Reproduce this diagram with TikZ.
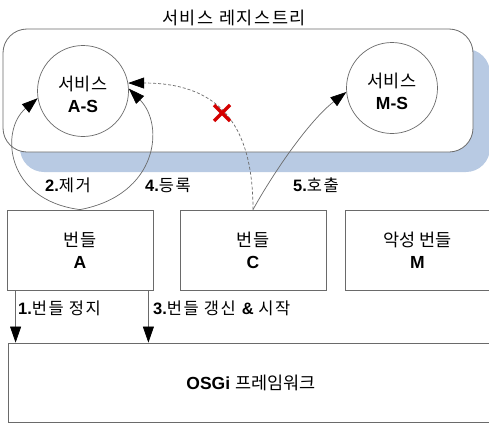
\documentclass[tikz,border=0pt]{standalone}
\usepackage{fontspec}
\setmainfont{Liberation Sans}
\newfontfamily\kr{Noto Sans CJK KR}
\newfontfamily\krw[LetterSpace=9]{Noto Sans CJK KR}
\usetikzlibrary{arrows.meta}
\newcommand\hk[1]{{\kr #1}}
\newcommand\hkw[1]{{\krw #1}}
\definecolor{linegray}{HTML}{6A6A6A}
\definecolor{shadowblue}{HTML}{B8CAE3}
\definecolor{xred}{HTML}{D40000}
\begin{document}
\begin{tikzpicture}[x=1pt,y=-1pt,
  txt/.style={font=\fontsize{17.5}{20}\selectfont, inner sep=0pt},
  lbl/.style={font=\fontsize{16.5}{18}\selectfont, inner sep=0pt},
  shadowbox/.style={fill=shadowblue, rounded corners=24pt},
  regbox/.style={draw=linegray, line width=0.8pt, fill=white, rounded corners=24pt},
  svc/.style={draw=linegray, line width=0.7pt, circle, minimum size=91pt, inner sep=0pt},
  bundlebox/.style={draw=linegray, line width=0.8pt, fill=white, inner sep=0pt},
  conn/.style={draw=linegray, line width=0.7pt, -{Triangle[length=16pt,width=11pt,color=black]}},
  dconn/.style={conn, dash pattern=on 3pt off 2pt},
  xmark/.style={draw=xred, line width=3.4pt}
]
\useasboundingbox (0,0) rectangle (489,423);
\clip (0,0) rectangle (489,423);

% registry
\path[shadowbox] (20,49) rectangle (490,172);
\path[regbox] (3,29) rectangle (473,152);
\node[txt] (title) at (234,18) {\hkw{서비스 레지스트리}};

% services
\node[svc] (aS) at (83,91) {};
\node[txt] (aSt) at (83,84) {\hk{서비스}};
\node[txt] (aSn) at (83,106) {\textbf{A-S}};
\node[svc] (mS) at (392,88) {};
\node[txt] (mSt) at (392,81) {\hk{서비스}};
\node[txt] (mSn) at (392,103) {\textbf{M-S}};

% bundles
\node[bundlebox, minimum width=146pt, minimum height=80pt] (bA) at (80,250) {};
\node[txt] (bAt) at (80,240) {\hk{번들}};
\node[txt] (bAn) at (80,262) {\textbf{A}};
\node[bundlebox, minimum width=146pt, minimum height=80pt] (bC) at (253,250) {};
\node[txt] (bCt) at (253,240) {\hk{번들}};
\node[txt] (bCn) at (253,262) {\textbf{C}};
\node[bundlebox, minimum width=145pt, minimum height=80pt] (bM) at (417.5,250) {};
\node[txt] (bMt) at (417.5,240) {\hk{악성 번들}};
\node[txt] (bMn) at (417.5,262) {\textbf{M}};

% framework
\node[bundlebox, minimum width=486pt, minimum height=79pt] (osgi) at (251,382.5) {};
\node[txt] (osgit) at (251,383) {\textbf{OSGi} \hk{프레임워크}};

% connectors
\draw[conn] (bA.north) .. controls (5,200) and (0,130) .. (aS.189);
\draw[conn] (bA.north) .. controls (158,195) and (165,125) .. (aS.3);
\draw[dconn] (bC.north) .. controls (253,120) and (215,83) .. (aS.10);
\draw[conn] (bC.north) .. controls (275,170) and (310,120) .. (mS.185);

\coordinate (a1) at ([xshift=9pt]bA.south west);
\coordinate (a3) at ([xshift=-5pt]bA.south east);
\draw[conn] (a1) -- (a1 |- osgi.north);
\draw[conn] (a3) -- (a3 |- osgi.north);

% x mark
\draw[xmark] (214,105) -- (230,121) (214,121) -- (230,105);

% labels
\node[lbl] (l2) at (68,185) {\textbf{2.}\hkw{제거}};
\node[lbl] (l4) at (168,185) {\textbf{4.}\hkw{등록}};
\node[lbl] (l5) at (316,185) {\textbf{5.}\hkw{호출}};
\node[lbl, anchor=west] (l1) at (18,308) {\textbf{1.}\hkw{번들 정지}};
\node[lbl, anchor=west] (l3) at (153,308) {\textbf{3.}\hkw{번들 갱신} \textbf{\&} \hkw{시작}};
\end{tikzpicture}
\end{document}
